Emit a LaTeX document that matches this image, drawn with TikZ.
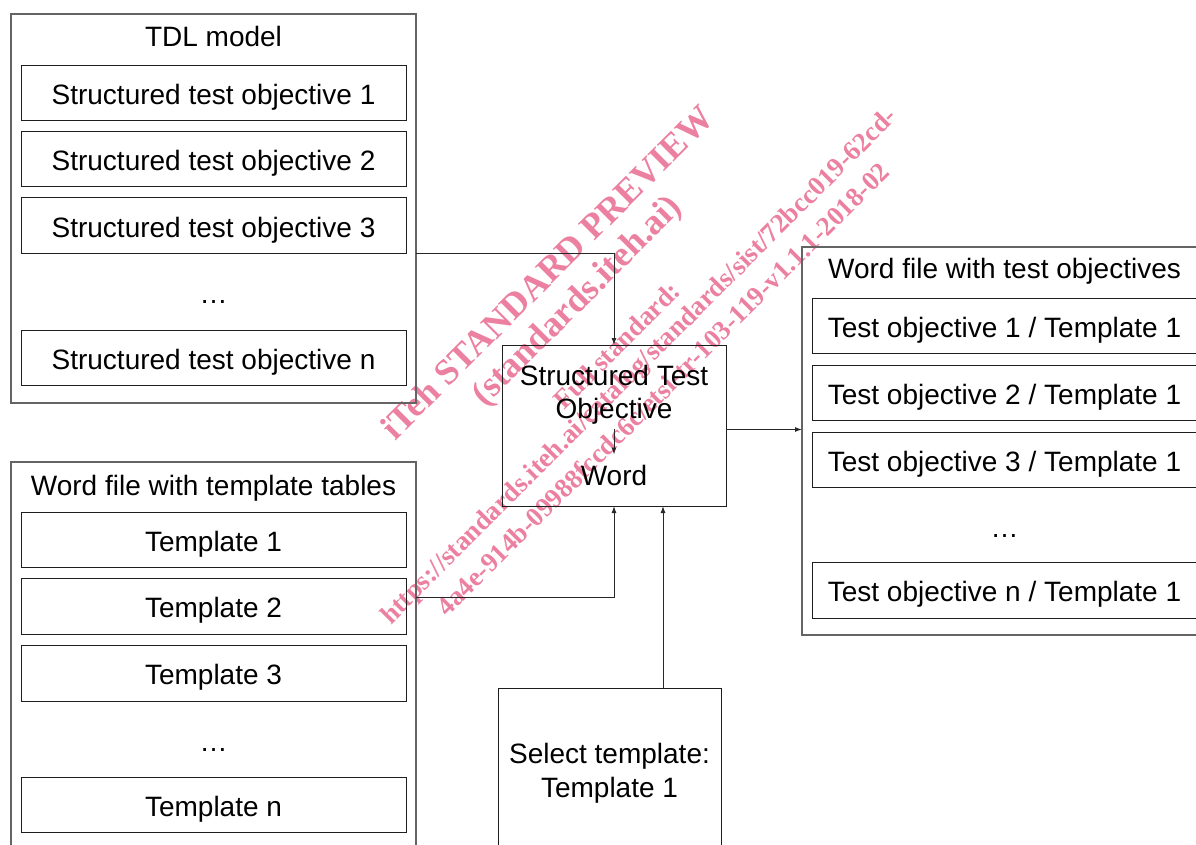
\documentclass[tikz,border=0pt]{standalone}
\usepackage{fontspec}
\setmainfont{Liberation Sans}
\newfontfamily\wmfont{Liberation Serif}
\usetikzlibrary{arrows.meta,calc}
\definecolor{outergray}{RGB}{100,100,100}
\definecolor{innerblack}{RGB}{30,30,30}
\definecolor{linecol}{RGB}{40,40,40}
\definecolor{wmpink}{RGB}{236,128,160}
\newcommand\dgfont{\fontsize{28}{33}\selectfont}
\begin{document}
\begin{tikzpicture}[x=1pt,y=-1pt,
  outerbox/.style={draw=outergray,line width=1.3pt,inner sep=0pt,outer sep=0pt,anchor=north west},
  innerbox/.style={draw=innerblack,line width=1pt,inner sep=0pt,outer sep=0pt,anchor=north west,
    minimum width=385pt,font=\dgfont,text height=23pt,text depth=0pt},
  lbl/.style={inner sep=0pt,font=\dgfont,anchor=base},
  arr/.style={draw=linecol,line width=1pt,-{Latex[length=7pt,width=5pt]}},
  wmA/.style={text=wmpink,font=\wmfont\bfseries\fontsize{36}{36}\selectfont,rotate=45,inner sep=0pt},
  wmB/.style={text=wmpink,font=\wmfont\bfseries\fontsize{27}{27}\selectfont,rotate=45,inner sep=0pt}]
\useasboundingbox (0,0) rectangle (1196,845);
\clip (0,0) rectangle (1196,845);

% watermark
\node[wmA] (wm1) at (547,272) {iTeh STANDARD PREVIEW};
\node[wmA] (wm2) at (578,302) {(standards.iteh.ai)};
\node[wmB] (wm3) at (617,345) {Full standard:};
\node[wmB] (wm4) at (640,367) {https://standards.iteh.ai/catalog/standards/sist/72bcc019-62cd-};
\node[wmB] (wm5) at (663,389) {4a4e-914b-09988fccdc6c/etsi-tr-103-119-v1.1.1-2018-02};

% TDL model
\node[outerbox,minimum width=405pt,minimum height=389pt] (tdl) at (11,14) {};
\node[lbl] (tdlT) at (213.5,47) {TDL model};
\node[innerbox,minimum height=55pt] (s1) at (21,66) {Structured test objective 1};
\node[innerbox,minimum height=55pt] (s2) at (21,132) {Structured test objective 2};
\node[innerbox,minimum height=55pt] (s3) at (21,198) {Structured test objective 3};
\node[lbl] (sdots) at (213.5,303) {…};
\node[innerbox,minimum height=55pt] (sn) at (21,330) {Structured test objective n};

% Word file with template tables
\node[outerbox,minimum width=405pt,minimum height=450pt] (wt) at (11,462) {};
\node[lbl] (wtT) at (213.5,495) {Word file with template tables};
\node[innerbox,minimum height=55pt] (t1) at (21,512) {Template 1};
\node[innerbox,minimum height=56pt] (t2) at (21,578) {Template 2};
\node[innerbox,minimum height=56pt] (t3) at (21,645) {Template 3};
\node[lbl] (tdots) at (213.5,751) {…};
\node[innerbox,minimum height=55pt] (tn) at (21,777) {Template n};

% Structured Test Objective -> Word
\node[draw=innerblack,line width=1pt,inner sep=0pt,outer sep=0pt,anchor=north west,
      minimum width=224pt,minimum height=161pt] (sto) at (502,345) {};
\node[lbl] (stoA) at (614,385) {Structured Test};
\node[lbl] (stoB) at (614,418) {Objective};
\node[lbl] (stoW) at (614,485) {Word};
\draw[arr] ([yshift=-5pt]stoB.south) -- ([yshift=10pt]stoW.north);

% Select template
\node[draw=innerblack,line width=1pt,inner sep=0pt,outer sep=0pt,anchor=north west,
      minimum width=223pt,minimum height=200pt] (sel) at (498,688) {};
\node[lbl] (selA) at (609.5,763) {Select template:};
\node[lbl] (selB) at (609.5,797) {Template 1};

% Word file with test objectives
\node[outerbox,minimum width=420pt,minimum height=388pt] (wo) at (802,247) {};
\node[lbl] (woT) at (1004.5,278) {Word file with test objectives};
\node[innerbox,minimum height=55pt] (o1) at (812,298) {Test objective 1 / Template 1};
\node[innerbox,minimum height=55pt] (o2) at (812,365) {Test objective 2 / Template 1};
\node[innerbox,minimum height=55pt] (o3) at (812,432) {Test objective 3 / Template 1};
\node[lbl] (odots) at (1004.5,537) {…};
\node[innerbox,minimum height=56pt] (on) at (812,562) {Test objective n / Template 1};

% connectors
\draw[arr] (tdl.east |- s3.south) -| (sto.north);
\draw[arr] ([yshift=-135pt]wt.north east) -| (sto.south);
\coordinate (selx) at ([xshift=53.5pt]sel.north);
\draw[arr] (selx) -- (selx |- sto.south);
\draw[arr] ([yshift=-4pt]sto.east) -- ([yshift=-4pt]sto.east -| wo.west);
\end{tikzpicture}
\end{document}
